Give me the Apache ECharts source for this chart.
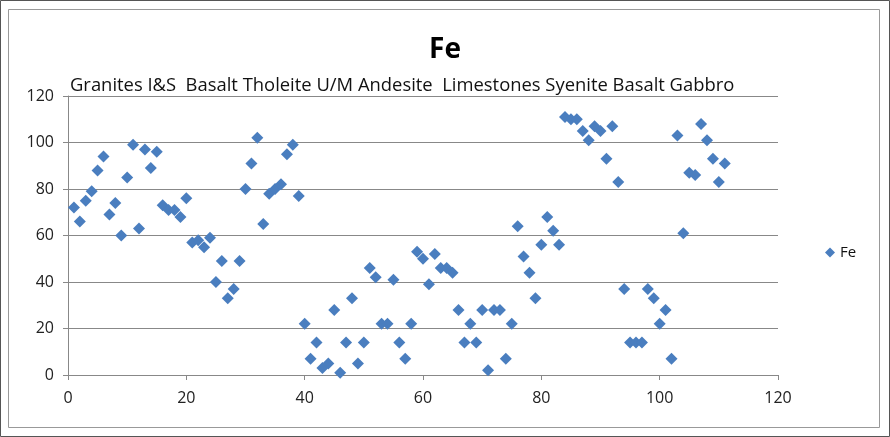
<!DOCTYPE html>
<html>
<head>
<meta charset="utf-8">
<script src="https://cdn.jsdelivr.net/npm/echarts@6/dist/echarts.min.js"></script>
<style>html,body{margin:0;padding:0;background:#fff;}#c{width:890px;height:437px;}</style>
</head>
<body>
<div id="c"></div>
<script>
const titleText = 'Fe';
const groupLabel = 'Granites I&S  Basalt Tholeite U/M Andesite  Limestones Syenite Basalt Gabbro';
const seriesName = 'Fe';
const sampleNo = [1,2,3,4,5,6,7,8,9,10,11,12,13,14,15,16,17,18,19,20,21,22,23,24,25,26,27,28,29,30,31,32,33,34,35,36,37,38,39,40,41,42,43,44,45,46,47,48,49,50,51,52,53,54,55,56,57,58,59,60,61,62,63,64,65,66,67,68,69,70,71,72,73,74,75,76,77,78,79,80,81,82,83,84,85,86,87,88,89,90,91,92,93,94,95,96,97,98,99,100,101,102,103,104,105,106,107,108,109,110,111];
const feValues = [72,66,75,79,88,94,69,74,60,85,99,63,97,89,96,73,71,71,68,76,
  57,58,55,59,40,49,33,37,49,80,91,102,65,78,80,82,95,99,77,22,
  7,14,3,5,28,1,14,33,5,14,46,42,22,22,41,14,7,22,53,50,
  39,52,46,46,44,28,14,22,14,28,2,28,28,7,22,64,51,44,33,56,
  68,62,56,111,110,110,105,101,107,105,93,107,83,37,14,14,14,37,33,22,
  28,7,103,61,87,86,108,101,93,83,91];
const xTicks = [0,20,40,60,80,100,120];
const yTicks = [0,20,40,60,80,100,120];

const chart = echarts.init(document.getElementById('c'), null, {renderer:'canvas'});
const data = sampleNo.map((x,i)=>[x, feValues[i]]);
const FONT = 'Open Sans';
chart.setOption({
  animation:false,
  backgroundColor:'#fff',
  title:[
    {text:titleText,left:'center',top:31,textStyle:{fontFamily:FONT,fontSize:28,fontWeight:'bold',color:'#000'}},
    {text:groupLabel,left:65,top:72,textStyle:{fontFamily:FONT,fontSize:18.4,fontWeight:'normal',color:'#111'}}
  ],
  legend:{data:[{name:seriesName,icon:'diamond'}],orient:'vertical',left:820,top:240,itemWidth:10,itemHeight:10,itemGap:4,
    textStyle:{fontFamily:FONT,fontSize:15,color:'#111'}},
  grid:{left:68,right:112,top:96,bottom:62,containLabel:false},
  xAxis:{type:'value',min:xTicks[0],max:xTicks[xTicks.length-1],interval:20,
    axisLine:{show:true,onZero:false,lineStyle:{color:'#888',width:1}},
    axisTick:{show:true,inside:false,length:5,lineStyle:{color:'#888'}},
    axisLabel:{fontFamily:FONT,fontSize:16,color:'#222',margin:15},
    splitLine:{show:false}},
  yAxis:{type:'value',min:yTicks[0],max:yTicks[yTicks.length-1],interval:20,
    axisLine:{show:true,lineStyle:{color:'#888',width:1}},
    axisTick:{show:true,length:5,lineStyle:{color:'#888'}},
    axisLabel:{fontFamily:FONT,fontSize:16,color:'#222',margin:14},
    splitLine:{show:true,lineStyle:{color:'#888',width:1}}},
  series:[{name:seriesName,type:'scatter',symbol:'diamond',symbolSize:12,data:data,
    itemStyle:{color:'#4a7ebf',opacity:1}}],
  graphic:[
    {type:'rect',shape:{x:0.5,y:0.5,width:889,height:436},style:{fill:'none',stroke:'#555',lineWidth:1},silent:true},
    {type:'rect',shape:{x:8.5,y:9.5,width:871,height:418},style:{fill:'none',stroke:'#999',lineWidth:1},silent:true}
  ]
});
</script>
</body>
</html>
